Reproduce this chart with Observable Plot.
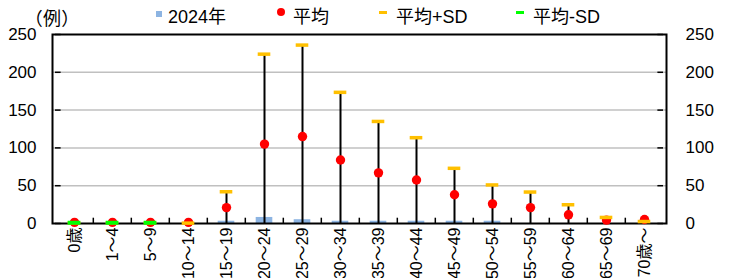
<!DOCTYPE html>
<html><head><meta charset="utf-8">
<script src="https://cdn.jsdelivr.net/npm/d3@7"></script>
<script src="https://cdn.jsdelivr.net/npm/@observablehq/plot@0.6"></script>
<style>
body{margin:0;background:#fff;font-family:"Liberation Sans","Noto Sans CJK JP",sans-serif;}
#wrap{width:729px;position:relative;}
#legend{position:relative;height:28px;font-size:18px;color:#000;}
#legend .t{position:absolute;white-space:nowrap;line-height:20px;top:7px;}
#legend .m{position:absolute;}
#unit{position:absolute;left:33px;top:8px;font-size:18px;line-height:18px;font-feature-settings:"palt";font-family:"Noto Sans CJK JP",sans-serif;letter-spacing:1px;z-index:2;}
svg{overflow:visible;display:block;}
</style>
</head><body>
<div id="wrap">
  <div id="legend"></div>
  <div id="chart"></div>
</div>
<script>
const categories = ["0歳","1～4","5～9","10～14","15～19","20～24","25～29","30～34","35～39","40～44","45～49","50～54","55～59","60～64","65～69","70歳～"];
const count2024 = [0,0,0,0,3,8,5,3,3,3,3,3,0,0,0,0];
const meanValues = [1.5,1.5,1.5,1.5,21,105,115,84,67,57.5,38,26,21,11.5,4.5,5.3];
const plusSD = [1,1,1,0.5,42,224,236,173.5,135,113.5,73,51,41.6,24.8,8,2.6];
const minusSD = [1,1,1,null,null,null,null,null,null,null,null,null,null,null,null,null];
const yTicks = [0,50,100,150,200,250];
const gridTicks = [50,100,150,200];
const seriesNames = ["2024年","平均","平均+SD","平均-SD"];
const unitLabel = "（例）";

const data = categories.map((c,i)=>({cat:c, bar:count2024[i], mean:meanValues[i], plus:plusSD[i], minus:minusSD[i]}));

// legend
const legend = document.getElementById("legend");
const unit = document.createElement("div"); unit.id="unit"; unit.textContent = unitLabel; legend.appendChild(unit);
const items = [
  {name:seriesNames[0], mx:156, my:11, mw:6, mh:6, color:"#8DB4E2", tx:168, round:false},
  {name:seriesNames[1], mx:277, my:8, mw:8, mh:8, color:"#FF0000", tx:293, round:true},
  {name:seriesNames[2], mx:379, my:10.5, mw:8, mh:3, color:"#FFC000", tx:396, round:false},
  {name:seriesNames[3], mx:516, my:10.5, mw:8, mh:3, color:"#00FF00", tx:533, round:false}
];
for (const it of items){
  const m=document.createElement("div"); m.className="m";
  Object.assign(m.style,{left:it.mx+"px",top:it.my+"px",width:it.mw+"px",height:it.mh+"px",background:it.color,borderRadius:it.round?"50%":"0"});
  legend.appendChild(m);
  const t=document.createElement("div"); t.className="t"; t.style.left=it.tx+"px"; t.textContent=it.name;
  legend.appendChild(t);
}

const W=729, ML=52, MR=63;
const bw=(W-ML-MR)/categories.length;

const chart = Plot.plot({
  width: W, height: 250,
  marginTop: 6, marginBottom: 55, marginLeft: ML, marginRight: MR,
  style: {fontFamily:'"Liberation Sans","Noto Sans CJK JP",sans-serif', fontSize:"16px", color:"#000", background:"#fff", overflow:"visible"},
  x: {type:"band", domain: categories, padding: 0},
  y: {domain:[0,250]},
  marks: [
    Plot.ruleY(gridTicks, {y: d=>d, stroke:"#C0C0C0", strokeWidth:1.5}),
    Plot.barY(data, {x:"cat", y:"bar", fill:"#8DB4E2", insetLeft:10.7, insetRight:10.7}),
    Plot.ruleX(data, {x:"cat", y1: d=> d.minus ?? 0, y2:"plus", stroke:"#000", strokeWidth:2}),
    Plot.ruleX(categories.slice(1), {x: d=>d, dx: -bw/2, y1: 0, y2: 7, stroke:"#000", strokeWidth:1.5}),
    Plot.tickY(yTicks, {y: d=>d, x: () => categories[0], insetRight: bw-6, stroke:"#000", strokeWidth:1.5}),
    Plot.tickY(yTicks, {y: d=>d, x: () => categories[categories.length-1], insetLeft: bw-6, stroke:"#000", strokeWidth:1.5}),
    Plot.frame({stroke:"#000", strokeWidth:2}),
    Plot.dot(data, {x:"cat", y:"mean", r:4.7, fill:"#FF0000", stroke:null}),
    Plot.tickY(data.filter(d=>d.plus!=null), {x:"cat", y:"plus", stroke:"#FFC000", strokeWidth:3.5, insetLeft:12.7, insetRight:12.7}),
    Plot.tickY(data.filter(d=>d.minus!=null), {x:"cat", y:"minus", stroke:"#00FF00", strokeWidth:4, insetLeft:12.7, insetRight:12.7}),
    Plot.axisX({tickRotate:-90, tickSize:0, tickPadding:4, fontSize:16, label:null}),
    Plot.axisY({anchor:"left", ticks:yTicks, tickSize:0, tickPadding:16, fontSize:17, label:null}),
    Plot.axisY({anchor:"right", ticks:yTicks, tickSize:0, tickPadding:19, fontSize:17, label:null})
  ]
});
document.getElementById("chart").appendChild(chart);
</script>
</body></html>
